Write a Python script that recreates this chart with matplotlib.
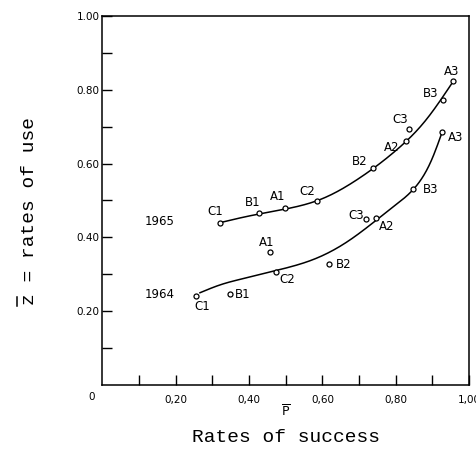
import numpy as np
import matplotlib
matplotlib.use("Agg")
import matplotlib.pyplot as plt
from matplotlib.lines import Line2D

# observed points, 1965
p65 = [0.321, 0.427, 0.497, 0.584, 0.737, 0.828, 0.837, 0.930, 0.957]
z65 = [0.440, 0.467, 0.480, 0.498, 0.587, 0.661, 0.695, 0.772, 0.823]
lab65 = ["C1", "B1", "A1", "C2", "B2", "A2", "C3", "B3", "A3"]
off65 = [(-5, 11), (-6, 10), (-7, 11), (-9, 10), (-13, 7), (-14, -6), (-9, 9), (-13, 7), (-2, 10)]

# observed points, 1964
p64 = [0.255, 0.348, 0.457, 0.473, 0.617, 0.719, 0.745, 0.848, 0.927]
z64 = [0.241, 0.247, 0.361, 0.307, 0.327, 0.450, 0.452, 0.530, 0.686]
lab64 = ["C1", "B1", "A1", "C2", "B2", "C3", "A2", "B3", "A3"]
off64 = [(6, -10), (13, -1), (-3, 9), (11, -8), (15, 0), (-10, 3), (11, -8), (17, 0), (13, -6)]

# hand-drawn trend curves
cx65 = [0.321, 0.40, 0.50, 0.60, 0.70, 0.80, 0.88, 0.957]
cy65 = [0.440, 0.458, 0.477, 0.505, 0.560, 0.635, 0.715, 0.823]
cx64 = [0.266, 0.32, 0.40, 0.473, 0.575, 0.666, 0.745, 0.80, 0.848, 0.898, 0.927]
cy64 = [0.250, 0.271, 0.292, 0.310, 0.340, 0.387, 0.445, 0.488, 0.530, 0.610, 0.686]


def smooth(xs, ys, n=200):
    # natural cubic spline through the curve samples
    x = np.asarray(xs, float)
    y = np.asarray(ys, float)
    k = len(x)
    h = np.diff(x)
    A = np.zeros((k, k))
    b = np.zeros(k)
    A[0, 0] = A[-1, -1] = 1
    for i in range(1, k - 1):
        A[i, i - 1] = h[i - 1]
        A[i, i] = 2 * (h[i - 1] + h[i])
        A[i, i + 1] = h[i]
        b[i] = 6 * ((y[i + 1] - y[i]) / h[i] - (y[i] - y[i - 1]) / h[i - 1])
    m = np.linalg.solve(A, b)
    xx = np.linspace(x[0], x[-1], n)
    j = np.clip(np.searchsorted(x, xx) - 1, 0, k - 2)
    t0 = x[j + 1] - xx
    t1 = xx - x[j]
    yy = (m[j] * t0 ** 3 + m[j + 1] * t1 ** 3) / (6 * h[j]) \
        + (y[j] / h[j] - m[j] * h[j] / 6) * t0 \
        + (y[j + 1] / h[j] - m[j + 1] * h[j] / 6) * t1
    return xx, yy


fig = plt.figure(figsize=(4.76, 4.54), dpi=100)
ax = fig.add_axes([0.2153, 0.152, 0.77, 0.8128])

for cx, cy in [(cx65, cy65), (cx64, cy64)]:
    xx, yy = smooth(cx, cy)
    ax.plot(xx, yy, color="black", lw=1.1)

for ps, zs, labs, offs in [(p65, z65, lab65, off65), (p64, z64, lab64, off64)]:
    ax.plot(ps, zs, "o", ms=3.6, mfc="white", mec="black", mew=0.9, zorder=3)
    for p, z, lab, off in zip(ps, zs, labs, offs):
        ax.annotate(lab, (p, z), xytext=off, textcoords="offset pixels",
                    ha="center", va="center", fontsize=8.5)

ax.text(0.157, 0.443, "1965", ha="center", va="center", fontsize=8.5)
ax.text(0.157, 0.244, "1964", ha="center", va="center", fontsize=8.5)

ax.set_xlim(0, 1)
ax.set_ylim(0, 1)
ax.set_xticks([0.2, 0.4, 0.6, 0.8, 1.0])
ax.set_xticklabels(["0,20", "0,40", "0,60", "0,80", "1,00"])
ax.set_yticks([0.2, 0.4, 0.6, 0.8, 1.0])
ax.set_yticklabels(["0.20", "0.40", "0.60", "0.80", "1.00"])
ax.set_xticks([0.1, 0.3, 0.5, 0.7, 0.9], minor=True)
ax.set_yticks([0.1, 0.3, 0.5, 0.7, 0.9], minor=True)
ax.tick_params(which="both", direction="in", length=7, width=1, labelsize=7.5)
ax.tick_params(axis="x", which="both", pad=7)
ax.tick_params(axis="y", which="both", pad=2)
for s in ax.spines.values():
    s.set_linewidth(1.1)

ax.text(-0.03, -0.02, "0", transform=ax.transAxes, ha="center", va="top", fontsize=7.5)
ax.text(0.5, -0.052, r"$\overline{\mathrm{P}}$", transform=ax.transAxes,
        ha="center", va="top", fontsize=9)

mono = ["Liberation Mono", "DejaVu Sans Mono"]
fig.text(286 / 476, 1 - 438 / 454, "Rates of success", ha="center", va="center",
         fontsize=14, family=mono)
fig.text(30 / 476, 1 - 211 / 454, "z = rates of use", ha="center", va="center",
         rotation=90, fontsize=14, family=mono)
# bar over the z of the rotated label
fig.add_artist(Line2D([17 / 476, 17 / 476], [1 - 297 / 454, 1 - 306 / 454],
                      color="black", lw=1.1))

fig.savefig("out.png", dpi=100)
